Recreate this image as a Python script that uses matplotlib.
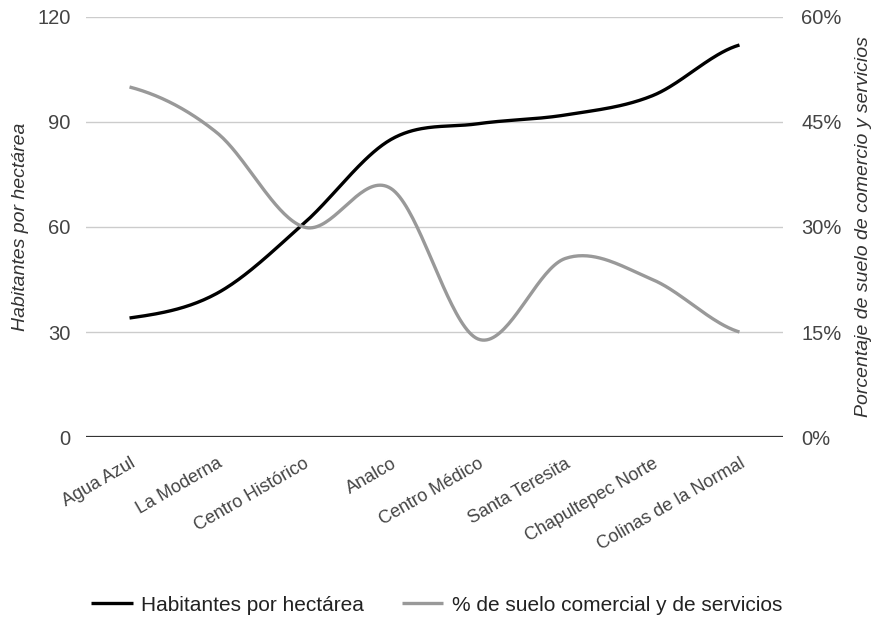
import numpy as np
import matplotlib.pyplot as plt
from matplotlib.ticker import FuncFormatter

plt.rcParams['font.family'] = ['Liberation Sans', 'DejaVu Sans']

colonias = ['Agua Azul', 'La Moderna', 'Centro Histórico', 'Analco', 'Centro Médico',
            'Santa Teresita', 'Chapultepec Norte', 'Colinas de la Normal']
habitantes = [34, 41, 61, 85, 89.5, 92, 97.5, 112]
suelo_pct = [50, 43.5, 30, 35.5, 14, 25.5, 22.5, 15]


def suave(y, n=40):
    # catmull-rom entre puntos, como la linea suavizada de la hoja de calculo
    y = np.asarray(y, float)
    x = np.arange(len(y), dtype=float)
    px = np.concatenate([[2 * x[0] - x[1]], x, [2 * x[-1] - x[-2]]])
    py = np.concatenate([[y[0]], y, [y[-1]]])
    xs, ys = [], []
    for i in range(1, len(px) - 2):
        t = np.linspace(0, 1, n, endpoint=False)
        for arr, out in ((px, xs), (py, ys)):
            p0, p1, p2, p3 = arr[i - 1], arr[i], arr[i + 1], arr[i + 2]
            m1 = (p2 - p0) / 2
            m2 = (p3 - p1) / 2
            h00 = 2 * t**3 - 3 * t**2 + 1
            h10 = t**3 - 2 * t**2 + t
            h01 = -2 * t**3 + 3 * t**2
            h11 = t**3 - t**2
            out.extend(h00 * p1 + h10 * m1 + h01 * p2 + h11 * m2)
    xs.append(x[-1])
    ys.append(y[-1])
    return np.array(xs), np.array(ys)


fig = plt.figure(figsize=(8.88, 6.22), dpi=100)
ax = fig.add_axes([0.0968, 0.2974, 0.785, 0.6753])
ax2 = ax.twinx()

x = np.arange(len(colonias))
sx, sy = suave(habitantes)
ax.plot(sx, sy, color='black', lw=2.4, solid_capstyle='butt', zorder=3,
        label='Habitantes por hectárea')
gx, gy = suave(suelo_pct)
ax2.plot(gx, gy, color='#999999', lw=2.4, solid_capstyle='butt', zorder=3,
         label='% de suelo comercial y de servicios')

ax.set_xlim(-0.5, len(colonias) - 0.5)
ax.set_ylim(0, 120)
ax2.set_ylim(0, 60)
ax.set_yticks([0, 30, 60, 90, 120])
ax2.set_yticks([0, 15, 30, 45, 60])
ax2.yaxis.set_major_formatter(FuncFormatter(lambda v, p: f'{v:.0f}%'))

ax.grid(axis='y', color='#cccccc', lw=1)
ax.axhline(0, color='#333333', lw=1.6, zorder=4)
for a in (ax, ax2):
    for s in a.spines.values():
        s.set_visible(False)
    a.tick_params(length=0, labelsize=14.5, labelcolor='#444444')
ax.tick_params(axis='y', pad=11)
ax2.tick_params(axis='y', pad=13)

ax.set_xticks(x)
ax.set_xticklabels(colonias, rotation=30, ha='right', rotation_mode='anchor')
ax.tick_params(axis='x', pad=13, labelsize=13)

ax.set_ylabel('Habitantes por hectárea', fontsize=14, style='italic', color='#333333', labelpad=6)
ax2.set_ylabel('Porcentaje de suelo de comercio y servicios', fontsize=14, style='italic',
               color='#333333', labelpad=10)

h1, l1 = ax.get_legend_handles_labels()
h2, l2 = ax2.get_legend_handles_labels()
fig.legend(h1 + h2, l1 + l2, loc='center', bbox_to_anchor=(0.4916, 0.027), ncol=2,
           frameon=False, fontsize=15, handlelength=2.0, columnspacing=1.8,
           handletextpad=0.4, labelcolor='#222222')

fig.savefig('out.png', dpi=100)
